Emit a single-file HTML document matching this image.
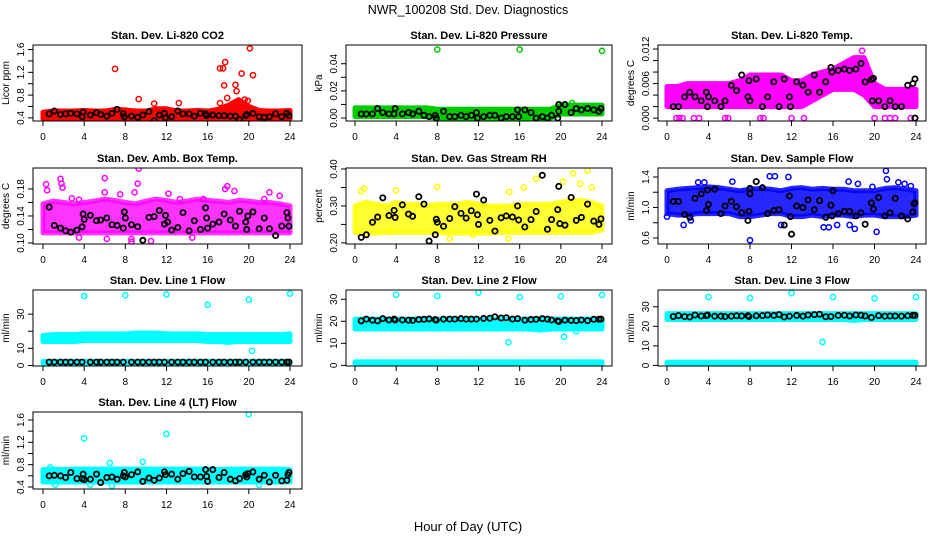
<!DOCTYPE html>
<html><head><meta charset="utf-8"><style>
body{margin:0;background:#fff}
svg{display:block;font-family:"Liberation Sans",sans-serif}
</style></head><body>
<svg id="chart" width="936" height="540" viewBox="0 0 936 540">
<text x="468" y="14" font-size="12.5" text-anchor="middle">NWR_100208  Std. Dev. Diagnostics</text>
<text x="468" y="531" font-size="13" text-anchor="middle">Hour of Day (UTC)</text>
</svg>
<script>
const hours=[0,1,2,3,4,5,6,7,8,9,10,11,12,13,14,15,16,17,18,19,20,21,22,23,24];
const xTicks=[0,4,8,12,16,20,24];

// CO2
const co2Lo=[.38,.38,.38,.38,.38,.38,.38,.38,.38,.38,.38,.38,.38,.38,.38,.38,.38,.38,.38,.38,.38,.38,.38,.38,.38];
const co2Hi=[.50,.52,.52,.52,.53,.52,.52,.55,.54,.52,.52,.56,.56,.52,.52,.53,.52,.55,.62,.72,.60,.53,.52,.52,.53];
const co2Out=[[7,1.26],[9.3,.73],[10.8,.65],[13.2,.66],[17.2,1.27],[17.5,1.27],[17.7,1.38],[17.6,.97],[17.9,.75],[17.2,.66],[18.7,.98],[18.8,.87],[19.3,1.18],[20.1,1.62],[20.4,1.15],[19.6,.72],[19.9,.70],[7.3,.35],[8,.35]];
const co2Blk=[[0.6,.47],[1.1,.52],[1.7,.46],[2.2,.47],[2.7,.48],[3.3,.47],[3.8,.42],[3.9,.50],[4.6,.45],[5.2,.49],[5.6,.46],[6.2,.43],[6.7,.48],[7.2,.55],[7.8,.47],[7.9,.42],[8.6,.43],[9.2,.41],[9.7,.45],[10.3,.51],[10.8,.35],[11.3,.45],[11.8,.48],[11.9,.40],[12.5,.42],[13.1,.52],[13.6,.47],[14.2,.47],[14.7,.43],[15.3,.48],[15.8,.47],[15.9,.44],[16.5,.45],[17.1,.44],[17.6,.44],[18.2,.43],[18.7,.43],[19.1,.37],[19.7,.44],[19.8,.46],[20.4,.48],[21,.42],[21.5,.41],[22,.42],[22.6,.47],[23.2,.42],[23.7,.48],[23.9,.44]];
// Pressure
const prLo=[.001,.001,.001,.001,.001,.001,.001,.001,0,0,0,0,0,0,0,0,0,0,0,0,.003,.003,.003,.003,.003];
const prHi=[.0075,.0075,.0075,.0075,.0075,.0075,.0075,.0075,.0065,.0065,.0065,.0065,.0065,.0065,.0065,.0065,.0065,.0065,.0065,.0065,.0095,.0095,.0095,.0095,.0095];
const prOut=[[8,.0505],[16,.0505],[24,.0495],[21.1,.011]];
const prBlk=[[0.6,.003],[1.1,.003],[1.7,.003],[2.2,.007],[2.7,.004],[3.3,.003],[3.8,.003],[3.9,.007],[4.6,.003],[5.2,.004],[5.6,.003],[6.2,.005],[6.7,.002],[7.2,.001],[7.8,.002],[7.9,0],[8.6,.005],[9.2,.001],[9.7,.001],[10.3,.002],[10.8,.001],[11.3,.002],[11.8,.004],[11.9,0],[12.5,.001],[13.1,.002],[13.6,.002],[14.2,0],[14.7,.001],[15.3,.001],[15.8,.006],[15.9,.001],[16.5,.006],[17.1,.004],[17.6,0],[18.2,.001],[18.7,0],[19.1,.002],[19.7,0],[19.8,.010],[19.8,.005],[20.4,.010],[21,.004],[21.5,.007],[22,.006],[22.6,.007],[23.2,.006],[23.7,.005],[23.9,.007]];
// Li-820 Temp
const ltLo=[.002,.002,.002,.002,.002,.002,.002,.002,.002,.002,.002,.002,.002,.002,.003,.004,.005,.005,.005,.004,.002,.002,.002,.002,.002];
const ltHi=[.0055,.0055,.006,.006,.006,.006,.006,.0065,.0075,.0075,.0075,.0075,.0065,.0065,.0075,.008,.0085,.0095,.0105,.0105,.006,.005,.005,.005,.005];
const ltOut=[[0.9,0],[1.2,0],[1.5,0],[2.6,0],[3.1,0],[5.6,0],[5.9,0],[9,0],[9.3,0],[12,0],[13.2,0],[20,0],[21,0],[21.5,0],[22,0],[23.5,0],[23.9,0],[18.8,.0117]];
const ltBlk=[[0.6,.002],[1.1,.002],[1.7,.0037],[2.2,.0045],[2.7,.0037],[3.3,.003],[3.8,.0045],[3.9,.002],[4,.0037],[4.6,.003],[5.2,.002],[5.6,.003],[6.2,.0057],[6.7,.0048],[7.2,.0075],[7.8,.0037],[7.9,.0065],[8,.003],[8.6,.0068],[9.2,.002],[9.7,.0037],[10.3,.0063],[10.8,.002],[11.3,.0068],[11.8,.0037],[11.9,.002],[12.5,.0063],[13.1,.0057],[13.6,.0045],[14.2,.0075],[14.7,.0045],[15.3,.0063],[15.8,.0088],[15.9,.008],[16.5,.0083],[17.1,.0085],[17.6,.0083],[18.2,.0085],[18.7,.0095],[19.1,.0063],[19.7,.0067],[19.8,.003],[19.9,.0069],[20.4,.003],[21,.002],[21.5,.003],[22,.002],[22.6,.002],[23.2,.0057],[23.7,.006],[23.9,.0068],[23.9,0]];
// Amb box temp
const abLo=[.115,.115,.115,.115,.115,.115,.115,.115,.115,.115,.115,.115,.115,.115,.115,.115,.115,.115,.115,.115,.115,.115,.115,.115,.115];
const abHi=[.158,.162,.160,.158,.160,.162,.165,.163,.160,.158,.162,.165,.163,.160,.162,.165,.163,.162,.160,.163,.162,.160,.160,.158,.155];
const abOut=[[0.3,.187],[0.4,.178],[1.7,.195],[1.8,.188],[1.9,.182],[2.8,.166],[3.5,.164],[3.5,.108],[6,.196],[6,.175],[6.2,.106],[7.5,.172],[8.9,.175],[8.6,.106],[8.6,.102],[9.2,.188],[9.3,.21],[12.2,.173],[13.3,.165],[14.5,.108],[15.6,.165],[17.7,.18],[17.9,.184],[18.6,.177],[21.5,.165],[22,.175],[23,.170],[10.5,.103]];
const abBlk=[[0.6,.153],[1.1,.126],[1.7,.122],[2.2,.118],[2.7,.116],[3.3,.119],[3.8,.124],[3.9,.143],[4,.135],[4.6,.141],[5.2,.133],[5.6,.134],[6.2,.137],[6.7,.127],[7.2,.126],[7.8,.122],[7.9,.146],[8,.137],[8.6,.127],[9.2,.124],[9.7,.104],[10.3,.138],[10.8,.139],[11.3,.148],[11.8,.128],[11.9,.141],[12.1,.131],[12.5,.119],[13.1,.123],[13.6,.145],[14.2,.118],[14.7,.133],[15.3,.120],[15.8,.152],[15.9,.137],[16,.122],[16.5,.128],[17.1,.131],[17.6,.143],[18.2,.134],[18.7,.125],[19.1,.147],[19.7,.131],[19.8,.120],[19.9,.140],[20.4,.146],[21,.121],[21.5,.137],[22,.121],[22.6,.111],[23.2,.125],[23.7,.145],[23.8,.137],[23.9,.125]];
// RH
const rhLo=[.228,.226,.226,.228,.228,.228,.228,.228,.228,.226,.226,.226,.226,.226,.228,.228,.228,.228,.228,.228,.228,.228,.228,.228,.235];
const rhHi=[.300,.310,.305,.300,.310,.305,.305,.300,.305,.305,.305,.310,.305,.300,.300,.300,.305,.305,.305,.305,.310,.315,.315,.310,.300];
const rhOut=[[0.6,.34],[0.9,.347],[4,.342],[8,.352],[15,.338],[16.4,.35],[17.6,.374],[20.2,.366],[21.2,.388],[22.6,.396],[21.9,.36],[23,.35],[9.2,.211],[14.9,.211],[3.4,.232],[11.5,.222]];
const rhBlk=[[0.6,.215],[1.1,.222],[1.7,.256],[2.2,.27],[2.7,.322],[3.3,.274],[3.8,.288],[3.9,.269],[4.6,.303],[5.2,.278],[5.6,.272],[6.2,.325],[6.7,.305],[7.2,.205],[7.8,.222],[7.9,.264],[8,.256],[8.6,.245],[9.2,.266],[9.7,.298],[10.3,.28],[10.8,.267],[11.3,.287],[11.8,.332],[11.9,.276],[12,.25],[12.5,.316],[13.1,.261],[13.6,.232],[14.2,.268],[14.7,.273],[15.3,.27],[15.8,.3],[15.9,.262],[16.5,.243],[17.1,.263],[17.6,.285],[18.2,.383],[18.7,.237],[19.1,.263],[19.7,.29],[19.8,.353],[19.9,.252],[20.4,.248],[21,.323],[21.5,.261],[22,.269],[22.6,.305],[23.2,.259],[23.7,.25],[23.9,.265]];
// Sample flow
const sfLo=[.92,.90,.90,.92,.92,.92,.92,.88,.88,.90,.92,.92,.88,.88,.90,.88,.90,.90,.88,.90,.90,.88,.88,.88,.90];
const sfHi=[1.22,1.24,1.25,1.26,1.27,1.26,1.24,1.22,1.24,1.25,1.24,1.22,1.25,1.26,1.24,1.25,1.24,1.24,1.22,1.22,1.22,1.25,1.26,1.24,1.22];
const sfOut=[[0,.88],[1.6,.77],[3,1.33],[3.6,1.33],[6.3,1.34],[8,.57],[9.9,1.41],[10.4,1.41],[11.7,1.4],[11,.77],[15.1,.74],[15.6,.74],[16.4,.77],[17.5,1.34],[17.6,.77],[18.1,.72],[18.4,1.31],[19.8,1.27],[20.2,.68],[21.1,1.48],[21.2,1.37],[22.3,1.33],[22.9,1.31],[23.5,1.28],[2.3,.83]];
const sfBlk=[[0.6,1.08],[1.1,1.08],[1.7,.91],[2.2,.87],[2.7,1.12],[3.3,1.18],[3.8,.96],[3.9,1.23],[4,1.04],[4.6,1.24],[5.2,.92],[5.6,1.02],[6.2,1.08],[6.7,1.01],[7.2,.93],[7.8,.83],[7.9,.95],[8,1.18],[8,1.25],[8.6,1.34],[9.2,1.26],[9.7,.92],[10.3,.96],[10.8,.97],[11.3,.77],[11.8,1.15],[11.9,.88],[12,.65],[12.5,1.02],[13.1,1.0],[13.6,1.1],[14.2,.97],[14.7,1.09],[15.3,.87],[15.8,1.03],[15.9,.89],[16,1.22],[16.5,.92],[17.1,.95],[17.6,.95],[18.2,.89],[18.7,.93],[19.1,.78],[19.7,1.06],[19.9,.98],[20.4,1.13],[21,.89],[21.5,.93],[22,1.12],[22.6,.89],[23.2,.85],[23.7,.94],[23.8,1.05],[23.9,1.06]];
// Line 1
const l1Lo=[14,14,14,14,14.5,14.5,14.5,14.5,14.5,14.5,14.5,14.5,14.5,14.5,14.5,14.5,14,14,13.5,14,14,14,14,14,14];
const l1Hi=[17.5,18,18,18,18.5,18.5,18.5,18.5,18.5,19,19,19,18.5,18.5,18.5,18.5,18,18,18,18,18,18,18,18,18.5];
const l1Lo2=[1.2,1.2,1.2,1.2,1.2,1.2,1.2,1.2,1.2,1.2,1.2,1.2,1.2,1.2,1.2,1.2,1.2,1.2,1.2,1.2,1.2,1.2,1.2,1.2,1.2];
const l1Hi2=[2.3,2.3,2.3,2.3,2.3,2.3,2.3,2.3,2.3,2.3,2.3,2.3,2.3,2.3,2.3,2.3,2.3,2.3,2.3,2.3,2.3,2.3,2.3,2.3,2.3];
const l1Out=[[4,40.5],[8,41],[12,41.5],[16,35.5],[20,38.5],[24,42],[20.3,8.5]];
const l1Blk=[[0.6,2],[1.1,2],[1.7,2],[2.2,2],[2.7,2],[3.3,2],[3.8,2],[4.6,2],[5.2,2],[5.6,2],[6.2,2],[6.7,2],[7.2,2],[7.8,2],[8.6,2],[9.2,2],[9.7,2],[10.3,2],[10.8,2],[11.3,2],[11.8,2],[12.5,2],[13.1,2],[13.6,2],[14.2,2],[14.7,2],[15.3,2],[15.8,2],[16.5,2],[17.1,2],[17.6,2],[18.2,2],[18.7,2],[19.1,2],[19.7,2],[20.4,2],[21,2],[21.5,2],[22,2],[22.6,2],[23.2,2],[23.7,2],[23.9,2]];
// Line 2
const l2Lo=[16.5,16.5,16.5,16.5,16.5,16.5,16.5,16.5,16.5,16.5,16.5,16.5,16.5,16.5,16.5,16.5,16.5,16.5,16,16.5,16.5,16.5,16.5,16.5,16.5];
const l2Hi=[21,21,21,21,21,21,21,21,21,21,21,21,21,21,21,21,21,21,21,21,21,21,21,21,21];
const l2Lo2=[0.8,0.8,0.8,0.8,0.8,0.8,0.8,0.8,0.8,0.8,0.8,0.8,0.8,0.8,0.8,0.8,0.8,0.8,0.8,0.8,0.8,0.8,0.8,0.8,0.8];
const l2Hi2=[1.6,1.6,1.6,1.6,1.6,1.6,1.6,1.6,1.6,1.6,1.6,1.6,1.6,1.6,1.6,1.6,1.6,1.6,1.6,1.6,1.6,1.6,1.6,1.6,1.6];
const l2Out=[[4,32],[8,31.5],[12,33],[16,31],[20,31.3],[24,32],[14.9,10.5],[20.3,13],[21.5,15.5]];
const l2Blk=[[0.6,20.2],[1.1,21],[1.7,20.5],[2.2,20.2],[2.7,21.2],[3.3,20.6],[3.8,21],[3.9,20.6],[4.6,20.6],[5.2,20.5],[5.6,20.4],[6.2,20.8],[6.7,20.9],[7.2,21.1],[7.8,20.8],[7.9,20.5],[8.6,21],[9.2,21],[9.7,21],[10.3,21.2],[10.8,21],[11.3,21],[11.8,21],[12.5,21.3],[13.1,21.4],[13.6,22],[14.2,21.5],[14.7,21.6],[15.3,21],[15.8,21.2],[16.5,20.5],[17.1,20.8],[17.6,20.9],[18.2,21.2],[18.7,21],[19.1,20.6],[19.7,20.2],[19.8,19.9],[20.4,20.5],[21,20.4],[21.5,20.3],[22,20.6],[22.6,20.3],[23.2,20.9],[23.7,20.9],[23.9,21]];
// Line 3
const l3Lo=[23.5,23.5,23.5,23.5,23.5,23.5,23.5,23.5,23.5,23.5,23.5,23.5,23.5,23.5,23.5,23.5,23.5,23.5,23,23.5,23.5,23.5,23.5,23.5,23.5];
const l3Hi=[26.5,26.5,26.5,26.5,26.5,26.5,26.5,26.5,26.5,26.5,26.5,26.5,26.5,26.5,26.5,26.5,26.5,26.5,26.5,26.5,26.5,26.5,26.5,26.5,26.5];
const l3Lo2=[0.8,0.8,0.8,0.8,0.8,0.8,0.8,0.8,0.8,0.8,0.8,0.8,0.8,0.8,0.8,0.8,0.8,0.8,0.8,0.8,0.8,0.8,0.8,0.8,0.8];
const l3Hi2=[1.6,1.6,1.6,1.6,1.6,1.6,1.6,1.6,1.6,1.6,1.6,1.6,1.6,1.6,1.6,1.6,1.6,1.6,1.6,1.6,1.6,1.6,1.6,1.6,1.6];
const l3Out=[[4,35],[8,34.5],[12,37],[16,35],[20,34.3],[24,35],[15,12]];
const l3Blk=[[0.6,25],[1.1,25.5],[1.7,25],[2.2,24.8],[2.7,25.8],[3.3,25.3],[3.8,25.5],[3.9,25.8],[4.6,25.2],[5.2,25.2],[5.6,25],[6.2,25.2],[6.7,25.4],[7.2,25.3],[7.8,25.5],[7.9,25],[8.6,25.4],[9.2,25.5],[9.7,25.8],[10.3,25.6],[10.8,26],[11.3,24.8],[11.8,25.2],[12.5,25.6],[13.1,25.2],[13.6,25.8],[14.2,26],[14.7,26.2],[15.3,24.9],[15.8,25],[16.5,25.6],[17.1,25.7],[17.6,25.3],[18.2,25.8],[18.7,25.7],[19.1,25.3],[19.7,24.5],[20.4,25.5],[21,25.2],[21.5,25.3],[22,25.3],[22.6,25.2],[23.2,25.4],[23.7,25.6],[23.9,25.6]];
// Line 4
const l4Lo=[.49,.49,.49,.49,.49,.49,.49,.49,.49,.49,.49,.49,.49,.49,.49,.49,.49,.49,.49,.49,.49,.49,.49,.49,.49];
const l4Hi=[.71,.72,.71,.72,.72,.72,.72,.72,.72,.72,.72,.72,.72,.72,.72,.72,.72,.71,.72,.72,.72,.72,.72,.72,.71];
const l4Out=[[4,1.27],[12,1.35],[20,1.7],[6.5,.83],[9.7,.85],[6.7,.42],[4.6,.44],[21,.44],[1.2,.44],[0.7,.75]];
const l4Blk=[[0.6,.6],[1.1,.61],[1.7,.6],[2.2,.57],[2.7,.66],[3.3,.55],[3.8,.55],[3.9,.63],[4,.53],[4.6,.54],[5.2,.63],[5.6,.48],[6.2,.57],[6.7,.58],[7.2,.54],[7.8,.6],[7.9,.66],[8,.58],[8.6,.62],[9.2,.67],[9.7,.5],[10.3,.56],[10.8,.52],[11.3,.56],[11.8,.67],[11.9,.62],[12.5,.63],[13.1,.54],[13.6,.64],[14.2,.68],[14.7,.58],[15.3,.58],[15.8,.71],[15.9,.59],[16,.5],[16.5,.71],[17.1,.57],[17.6,.66],[18.2,.54],[18.7,.51],[19.1,.55],[19.7,.62],[19.8,.58],[19.9,.64],[20.4,.67],[21,.54],[21.5,.61],[22,.49],[22.6,.61],[23.2,.51],[23.7,.52],[23.8,.62],[23.9,.66]];

const yTicksCO2=[.4,.6,.8,1.0,1.2,1.4,1.6], yLabCO2=['0.4','','0.8','','1.2','','1.6'];
const yTicksPr=[0,.01,.02,.03,.04], yLabPr=['0.00','','0.02','','0.04'];
const yTicksLt=[0,.002,.004,.006,.008,.010,.012], yLabLt=['0.000','','','0.006','','','0.012'];
const yTicksAb=[.10,.12,.14,.16,.18], yLabAb=['0.10','','0.14','','0.18'];
const yTicksRh=[.20,.25,.30,.35,.40], yLabRh=['0.20','','0.30','','0.40'];
const yTicksSf=[.6,.8,1.0,1.2,1.4], yLabSf=['0.6','','1.0','','1.4'];
const yTicksFlow=[0,10,20,30], yLabL1=['0','10','','30'], yLabFlow=['0','10','20','30'];
const yTicksL4=[.4,.6,.8,1.0,1.2,1.4,1.6], yLabL4=['0.4','','0.8','','1.2','','1.6'];

const cols=[{l:33,r:302,x0:43,x24:290},{l:346,r:612,x0:355,x24:602},{l:658,r:926,x0:667,x24:916}];
const rows=[{t:45,b:121},{t:168,b:244},{t:290,b:366},{t:412,b:489}];
const panels=[
 {name:'co2',title:'Stan. Dev. Li-820 CO2',yl:'Licor ppm',c:0,r:0,ylim:[.345,1.68],col:'#ff0000',lo:co2Lo,hi:co2Hi,out:co2Out,blk:co2Blk,yt:yTicksCO2,yls:yLabCO2},
 {name:'pressure',title:'Stan. Dev. Li-820 Pressure',yl:'kPa',c:1,r:0,ylim:[-.0022,.0538],col:'#00cc00',lo:prLo,hi:prHi,out:prOut,blk:prBlk,yt:yTicksPr,yls:yLabPr},
 {name:'li820-temp',title:'Stan. Dev. Li-820 Temp.',yl:'degrees C',c:2,r:0,ylim:[-.0005,.0127],col:'#ff00ff',lo:ltLo,hi:ltHi,out:ltOut,blk:ltBlk,yt:yTicksLt,yls:yLabLt},
 {name:'amb-box-temp',title:'Stan. Dev. Amb. Box Temp.',yl:'degrees C',c:0,r:1,ylim:[.0985,.211],col:'#ff00ff',lo:abLo,hi:abHi,out:abOut,blk:abBlk,yt:yTicksAb,yls:yLabAb,op:.8},
 {name:'gas-stream-rh',title:'Stan. Dev. Gas Stream RH',yl:'percent',c:1,r:1,ylim:[.197,.4027],col:'#ffff00',lo:rhLo,hi:rhHi,out:rhOut,blk:rhBlk,yt:yTicksRh,yls:yLabRh,op:.8},
 {name:'sample-flow',title:'Stan. Dev. Sample Flow',yl:'ml/min',c:2,r:1,ylim:[.521,1.518],col:'#0000ff',lo:sfLo,hi:sfHi,out:sfOut,blk:sfBlk,yt:yTicksSf,yls:yLabSf,op:.85},
 {name:'line1-flow',title:'Stan. Dev. Line 1 Flow',yl:'ml/min',c:0,r:2,ylim:[-.3,44.1],col:'#00ffff',lo:l1Lo,hi:l1Hi,lo2:l1Lo2,hi2:l1Hi2,out:l1Out,blk:l1Blk,yt:yTicksFlow,yls:yLabL1},
 {name:'line2-flow',title:'Stan. Dev. Line 2 Flow',yl:'ml/min',c:1,r:2,ylim:[-.3,34.2],col:'#00ffff',lo:l2Lo,hi:l2Hi,lo2:l2Lo2,hi2:l2Hi2,out:l2Out,blk:l2Blk,yt:yTicksFlow,yls:yLabFlow},
 {name:'line3-flow',title:'Stan. Dev. Line 3 Flow',yl:'ml/min',c:2,r:2,ylim:[-.3,38.6],col:'#00ffff',lo:l3Lo,hi:l3Hi,lo2:l3Lo2,hi2:l3Hi2,out:l3Out,blk:l3Blk,yt:yTicksFlow,yls:yLabFlow},
 {name:'line4-flow',title:'Stan. Dev. Line 4 (LT) Flow',yl:'ml/min',c:0,r:3,ylim:[.364,1.743],col:'#00ffff',lo:l4Lo,hi:l4Hi,out:l4Out,blk:l4Blk,yt:yTicksL4,yls:yLabL4}
];
const NS='http://www.w3.org/2000/svg';
const svg=document.getElementById('chart');
function mk(tag,attrs,parent){const e=document.createElementNS(NS,tag);for(const k in attrs)e.setAttribute(k,attrs[k]);parent.appendChild(e);return e;}
panels.forEach(p=>{
 const C=cols[p.c],R=rows[p.r];
 const xs=v=>C.x0+(C.x24-C.x0)*v/24;
 const ys=v=>R.b-(R.b-R.t)*(v-p.ylim[0])/(p.ylim[1]-p.ylim[0]);
 const g=mk('g',{},svg);
 
 
 const cx=(C.l+C.r)/2;
 const t=mk('text',{x:cx,y:R.t-6,'font-size':11,'font-weight':'bold','text-anchor':'middle'},g);
 t.textContent=p.title;
 
 
 const ylx=C.l-24, ylyc=(R.t+R.b)/2;
 const yl=mk('text',{x:ylx,y:ylyc,'font-size':10,'text-anchor':'middle',transform:`rotate(-90 ${ylx} ${ylyc})`},g);
 yl.textContent=p.yl;
 
 
 const clip='clip-'+p.name;
 const cp=mk('clipPath',{id:clip},g);mk('rect',{x:C.l,y:R.t,width:C.r-C.l,height:R.b-R.t},cp);
 const data=mk('g',{'clip-path':`url(#${clip})`},g);
 const band=(lo,hi,nm)=>{
  let d='M'+hours.map((h,i)=>xs(h)+','+ys(hi[i])).join(' L')+' L'+hours.slice().reverse().map((h,j)=>{const i=hours.length-1-j;return xs(h)+','+ys(lo[i]);}).join(' L')+'Z';
  const b=mk('path',{d:d,fill:p.col,stroke:p.col,'stroke-width':5,'stroke-linejoin':'round','fill-opacity':p.op||1,'stroke-opacity':p.op||1},data);
  
  
 };
 band(p.lo,p.hi,p.name+'-data-band');
 if(p.lo2)band(p.lo2,p.hi2,p.name+'-low-band');
 p.out.forEach(q=>{
  const c=mk('circle',{cx:xs(q[0]),cy:ys(q[1]),r:2.6,fill:'none',stroke:p.col,'stroke-width':1.5},data);
  
  
 });
 p.blk.forEach(q=>{
  const c=mk('circle',{cx:xs(q[0]),cy:ys(q[1]),r:2.6,fill:'none',stroke:'#000','stroke-width':1.8},data);
  
  
 });
 const box=mk('rect',{x:C.l,y:R.t,width:C.r-C.l,height:R.b-R.t,fill:'none',stroke:'#000','stroke-width':1},g);
 
 
 xTicks.forEach(v=>{
  mk('line',{x1:xs(v),x2:xs(v),y1:R.b,y2:R.b+5,stroke:'#000'},g);
  const l=mk('text',{x:xs(v),y:R.b+19,'font-size':10,'text-anchor':'middle'},g);
  l.textContent=v;
  
  
 });
 p.yt.forEach((v,i)=>{
  const yy=ys(v);
  mk('line',{x1:C.l-5,x2:C.l,y1:yy,y2:yy,stroke:'#000'},g);
  if(p.yls[i]){
   const lx=C.l-9;
   const l=mk('text',{x:lx,y:yy,'font-size':10,'text-anchor':'middle',transform:`rotate(-90 ${lx} ${yy})`},g);
   l.textContent=p.yls[i];
   
   
  }
 });
});
</script>
</body></html>
